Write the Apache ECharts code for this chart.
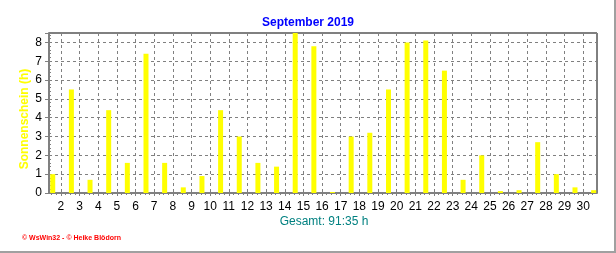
<!DOCTYPE html>
<html>
<head>
<meta charset="utf-8">
<script src="https://cdn.jsdelivr.net/npm/echarts@6/dist/echarts.min.js"></script>
<style>
    html, body { margin: 0; padding: 0; background: #fff; }
    #main { width: 616px; height: 253px; }
</style>
</head>
<body>
<div id="main"></div>
<script>
// Sonnenschein pro Tag, September 2019
var days = [];
for (var i = 1; i <= 30; i++) days.push(i);
var sunHours = [1.0, 5.5, 0.7, 4.4, 1.6, 7.4, 1.6, 0.3, 0.9, 4.4,
    3.0, 1.6, 1.4, 8.5, 7.8, 0.05, 3.0, 3.2, 5.5, 8.0,
    8.1, 6.5, 0.7, 2.0, 0.1, 0.15, 2.7, 1.0, 0.3, 0.15];
var dayTicks = [2, 3, 4, 5, 6, 7, 8, 9, 10, 11, 12, 13, 14, 15, 16,
    17, 18, 19, 20, 21, 22, 23, 24, 25, 26, 27, 28, 29, 30];
var titleText = 'September 2019';
var yName = 'Sonnenschein (h)';
var totalText = 'Gesamt: 91:35 h';
var footText = '\u00a9 WsWin32 - \u00a9 Heike Blödorn';

var X_MIN = 1.36, X_MAX = 30.74;
var BAR_OFFSET = 0.56; // Balken in der Tagesmitte

// Viertel-Tag Ticks (6 Stunden)
var quarterTicks = [];
for (var q = 1.5; q <= 30.75; q += 0.25) {
    if (q >= X_MIN && q <= X_MAX) quarterTicks.push(q);
}

var barData = days.map(function (d, i) {
    return [d + BAR_OFFSET, sunHours[i]];
});

(function () {
    var mycharts = echarts.init(document.getElementById('main'));
    var font = 'Liberation Sans, Arial, sans-serif';
    var option = {
        animation: false,
        title: {
            text: titleText,
            left: 'center',
            top: 12,
            textStyle: { color: '#0000ff', fontSize: 12, fontWeight: 'bold', fontFamily: font }
        },
        grid: {
            left: 49, right: 19, top: 33, bottom: 60,
            show: true,
            borderColor: '#000',
            borderWidth: 1,
            backgroundColor: '#fff'
        },
        xAxis: [{
            type: 'value',
            min: X_MIN,
            max: X_MAX,
            axisLine: { show: true, onZero: false, lineStyle: { color: '#808080', width: 2 } },
            axisTick: { show: true, length: 3, customValues: dayTicks, lineStyle: { color: '#808080' } },
            axisLabel: { customValues: dayTicks, color: '#000', fontSize: 12, fontFamily: font, margin: 8 },
            splitLine: { show: true, lineStyle: { color: '#808080', type: [3, 3] } }
        }, {
            type: 'value',
            min: X_MIN,
            max: X_MAX,
            position: 'bottom',
            axisLine: { show: false },
            axisTick: { show: true, length: 2, customValues: quarterTicks, lineStyle: { color: '#808080' } },
            axisLabel: { show: false },
            splitLine: { show: false }
        }],
        yAxis: [{
            type: 'value',
            min: 0,
            max: 8.5,
            interval: 1,
            axisLine: { show: true, lineStyle: { color: '#808080', width: 2 } },
            axisTick: { show: true, length: 4, lineStyle: { color: '#808080' } },
            axisLabel: {
                color: '#000', fontSize: 12, fontFamily: font, margin: 7,
                formatter: function (v) { return v % 1 === 0 ? v : ''; }
            },
            splitLine: { show: true, lineStyle: { color: '#808080', type: [3, 3] } }
        }, {
            type: 'value',
            min: 0,
            max: 8.5,
            interval: 1,
            position: 'left',
            axisLine: { show: false },
            axisTick: { show: false, inside: true },
            minorTick: { show: true, splitNumber: 5, length: 2, lineStyle: { color: '#808080' } },
            axisLabel: { show: false },
            splitLine: { show: false }
        }],
        series: [{
            name: 'Sonnenschein',
            type: 'bar',
            data: barData,
            barWidth: 5,
            itemStyle: { color: '#ffff00' },
            clip: true
        }],
        graphic: [{
            type: 'text',
            x: 25, y: 119,
            rotation: Math.PI / 2,
            style: {
                text: yName, fill: '#ffff00', font: 'bold 12px ' + font,
                align: 'center', verticalAlign: 'middle'
            }
        }, {
            type: 'text',
            x: 324, y: 222,
            style: {
                text: totalText, fill: '#008080', font: '12px ' + font,
                align: 'center', verticalAlign: 'middle'
            }
        }, {
            type: 'text',
            x: 22, y: 238,
            style: {
                text: footText, fill: '#ff0000', font: 'bold 7px ' + font,
                align: 'left', verticalAlign: 'middle'
            }
        }, {
            type: 'rect',
            shape: { x: 614, y: 0, width: 2, height: 253 },
            style: { fill: '#a0a0a0' }
        }, {
            type: 'rect',
            shape: { x: 0, y: 251, width: 616, height: 2 },
            style: { fill: '#a0a0a0' }
        }]
    };
    mycharts.setOption(option);
    window.addEventListener('resize', function () {
        mycharts.resize();
    });
})();
</script>
</body>
</html>
